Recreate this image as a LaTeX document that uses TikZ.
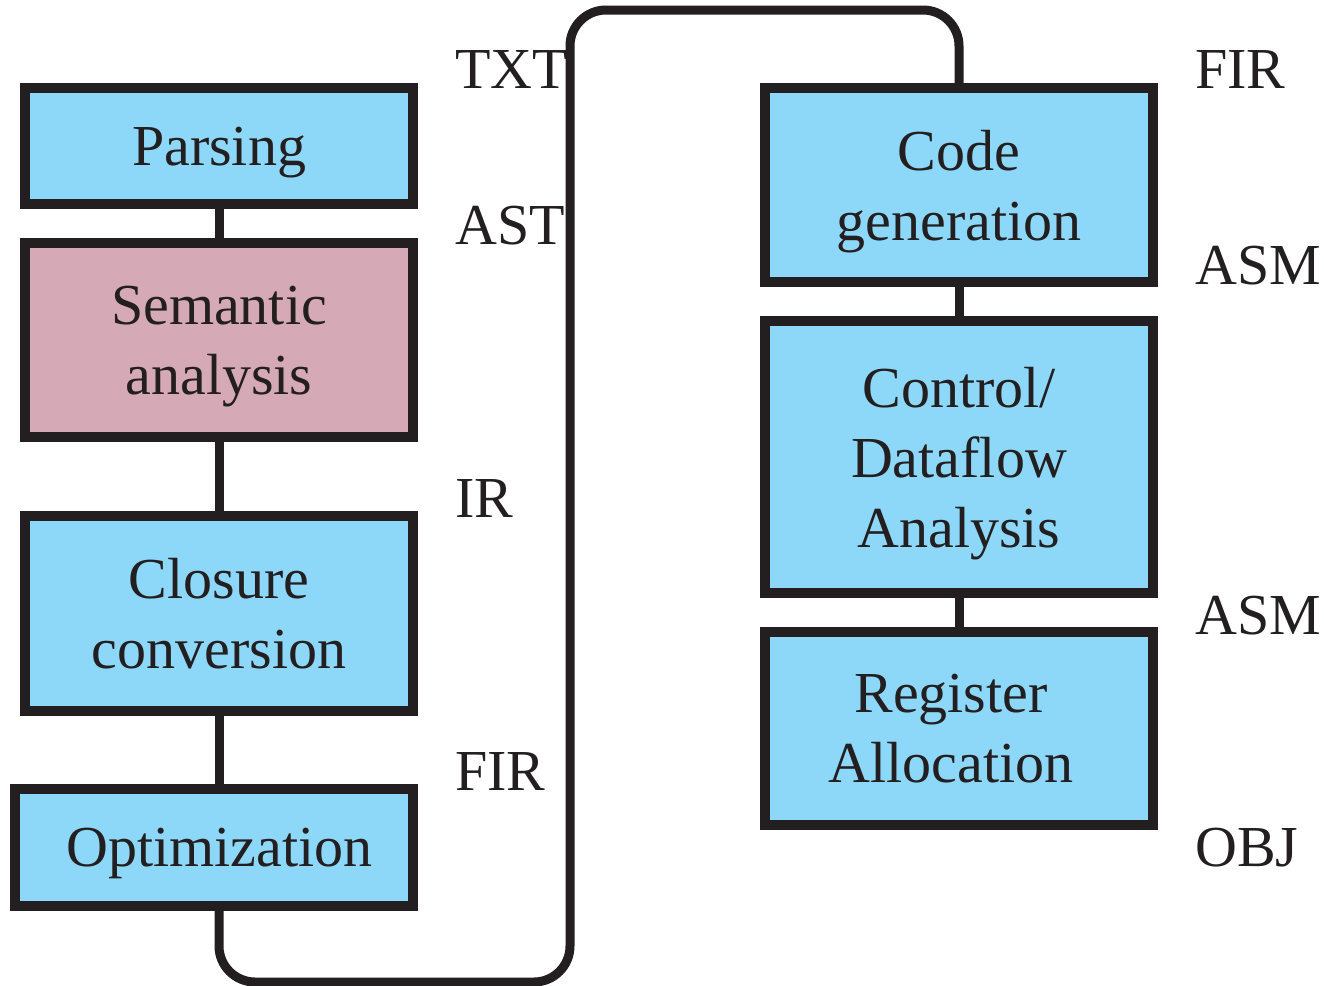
\documentclass[tikz,border=0pt]{standalone}
\usepackage{fontspec}
\setmainfont{Liberation Serif}
\usepackage{xcolor}
\usepackage{tikz}
\definecolor{stageblue}{HTML}{8DD8F8}
\definecolor{stagepink}{HTML}{D5A9B5}
\definecolor{ink}{HTML}{231F20}

\begin{document}
\begin{tikzpicture}[
  x=0.5pt, y=-0.5pt,
  stage/.style={draw=ink, line width=4.75pt, fill=stageblue, outer sep=0pt,
    inner sep=0pt, align=center, text=ink, text depth=0pt,
    font=\fontsize{29}{35}\selectfont},
  caption/.style={inner sep=0pt, align=center, text=ink, text depth=0pt,
    font=\fontsize{29}{35}\selectfont},
  form/.style={anchor=base west, inner sep=0pt, text=ink,
    font=\fontsize{29}{35}\selectfont},
  link/.style={draw=ink, line width=4.5pt}
]

\useasboundingbox (0,0) rectangle (1324,986);

\node [stage, minimum width=194pt, minimum height=58pt] (parse) at (219,146) {Parsing};
\node [stage, fill=stagepink, minimum width=194pt, minimum height=97pt] (sem) at (219,340) {Semantic\\analysis};
\node [stage, minimum width=194pt, minimum height=97.5pt] (clo) at (219,613.5) {Closure\\conversion};
\node [stage, minimum width=199pt, minimum height=58.5pt] (opt) at (214,847.5) {};
\node [caption] (opttext) at ([xshift=2.75pt]opt.center) {Optimization};

\node [stage, minimum width=194pt, minimum height=97pt] (cg) at (959,185) {Code\\generation};
\node [stage, minimum width=194pt, minimum height=136pt] (cdf) at (959,457) {Control/\\Dataflow\\Analysis};
\node [stage, minimum width=194pt, minimum height=96.5pt] (reg) at (959,728.5) {};
\node [caption] (regtext) at ([xshift=-4pt]reg.center) {Register\\Allocation};

\draw [link] (parse.south) -- (sem.north);
\draw [link] (sem.south) -- (clo.north);
\draw [link] (clo.south) -- (clo.south |- opt.north);
\draw [link] (cg.south) -- (cdf.north);
\draw [link] (cdf.south) -- (reg.north);

\coordinate (low) at (570,982);
\coordinate (high) at (959,10);
\draw [link, rounded corners=18pt] (opt.south -| clo.south) |- (low) |- (high) -- (cg.north);

\node [form] (txt) at (455,88) {TXT};
\node [form] (ast) at (455,244) {AST};
\node [form] (ir) at (455,517) {IR};
\node [form] (firl) at (455,790) {FIR};
\node [form] (firr) at (1195,88) {FIR};
\node [form] (asma) at (1195,284) {ASM};
\node [form] (asmb) at (1195,634) {ASM};
\node [form] (obj) at (1195,866) {OBJ};

\end{tikzpicture}
\end{document}
